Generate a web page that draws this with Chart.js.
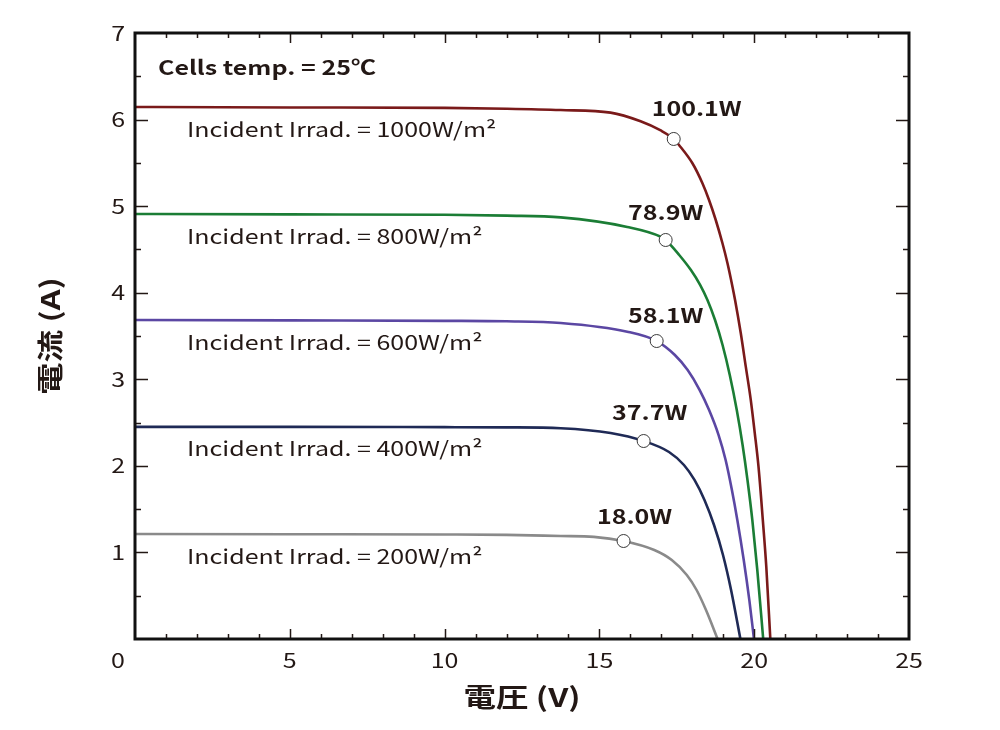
<!DOCTYPE html>
<html>
<head>
<meta charset="utf-8">
<script src="https://cdn.jsdelivr.net/npm/chart.js@4/dist/chart.umd.min.js"></script>
<style>
  html, body { margin: 0; padding: 0; background: #fff; }
  #wrap { width: 1000px; height: 730px; }
</style>
</head>
<body>
<div id="wrap"><canvas id="myChart" width="1000" height="730"></canvas></div>
<script>
// I-V curves, voltage (V) / current (A)
const v1000 = [0, 5, 10, 12, 13.75, 15.36, 16.33, 16.98, 17.4, 17.571, 18.005, 18.328, 18.541, 18.758, 18.975, 19.137, 19.298, 19.382, 19.567, 19.728, 19.89, 20.019, 20.139, 20.278, 20.391, 20.521];
const i1000 = [6.145, 6.14, 6.135, 6.125, 6.11, 6.08, 5.98, 5.874, 5.776, 5.706, 5.495, 5.264, 5.071, 4.84, 4.571, 4.34, 4.07, 3.916, 3.531, 3.146, 2.76, 2.376, 1.99, 1.375, 0.832, 0];

const v800 = [0, 5, 10, 12, 13.75, 15.9, 16.98, 17.14, 17.578, 17.956, 18.257, 18.49, 18.735, 18.978, 19.211, 19.437, 19.625, 19.783, 19.939, 20.1, 20.291];
const i800 = [4.91, 4.905, 4.9, 4.89, 4.87, 4.76, 4.647, 4.609, 4.436, 4.262, 4.089, 3.916, 3.685, 3.396, 3.05, 2.645, 2.241, 1.837, 1.375, 0.797, 0];

const v600 = [0, 5, 10, 12, 13.75, 15.9, 16.85, 17.438, 17.851, 18.239, 18.543, 18.85, 19.077, 19.28, 19.455, 19.662, 19.843, 19.993];
const i600 = [3.685, 3.68, 3.675, 3.67, 3.65, 3.55, 3.442, 3.281, 3.107, 2.876, 2.645, 2.356, 2.068, 1.721, 1.375, 0.913, 0.45, 0];

const v400 = [0, 5, 10, 12, 13.75, 15.36, 16.429, 17.248, 17.731, 18.071, 18.394, 18.702, 18.992, 19.253, 19.554];
const i400 = [2.45, 2.45, 2.447, 2.445, 2.435, 2.38, 2.287, 2.16, 2.01, 1.837, 1.606, 1.317, 0.97, 0.566, 0];

const v200 = [0, 5, 10, 12, 13.75, 14.82, 15.78, 16.772, 17.338, 17.823, 18.139, 18.443, 18.818];
const i200 = [1.213, 1.21, 1.207, 1.203, 1.19, 1.18, 1.132, 1.028, 0.912, 0.739, 0.566, 0.335, 0];

// maximum power points
const mppV = [17.4, 17.14, 16.85, 16.429, 15.78];
const mppI = [5.776, 4.609, 3.442, 2.287, 1.132];
const mppLabels = ["100.1W", "78.9W", "58.1W", "37.7W", "18.0W"];

const irradLabels = ["1000", "800", "600", "400", "200"];
const iscValues = [6.145, 4.91, 3.685, 2.45, 1.213];

const curveColors = ["#7a1a1a", "#1b7d35", "#5b47a3", "#1f2a56", "#8a8a8a"];

const FONT = "'Noto Sans CJK JP', 'Noto Sans', sans-serif";
const TXT = "#231815";
const SX = 1.25; // the original lettering is set wide

function pts(xs, ys) {
  return xs.map(function (x, k) { return { x: x, y: ys[k] }; });
}

function wideText(ctx, text, x, y, align, rot) {
  ctx.save();
  ctx.translate(x, y);
  if (rot) ctx.rotate(rot);
  ctx.scale(SX, 1);
  ctx.textAlign = align;
  ctx.fillText(text, 0, 0);
  ctx.restore();
}

const curves = [[v1000, i1000], [v800, i800], [v600, i600], [v400, i400], [v200, i200]];

const datasets = [
  {
    label: "mpp",
    data: pts(mppV, mppI),
    showLine: false,
    pointRadius: 6.5,
    pointBackgroundColor: "#fff",
    pointBorderColor: "#3a3a3a",
    pointBorderWidth: 1,
    order: 0,
  },
];
curves.forEach(function (c, k) {
  datasets.push({
    label: irradLabels[k],
    data: pts(c[0], c[1]),
    borderColor: curveColors[k],
    borderWidth: 2.6,
    pointRadius: 0,
    cubicInterpolationMode: "monotone",
    fill: false,
    order: 1,
  });
});

// frame, inward ticks, tick labels, titles and annotation texts
const decor = {
  id: "decor",
  afterDatasetsDraw(chart) {
    const ctx = chart.ctx;
    const xs = chart.scales.x;
    const ys = chart.scales.y;
    const a = chart.chartArea;
    ctx.save();
    ctx.strokeStyle = "#231815";
    ctx.lineWidth = 1.5;
    ctx.beginPath();
    for (let v = 1; v < 25; v++) {
      const len = v % 5 === 0 ? 10 : 5;
      const px = Math.round(xs.getPixelForValue(v)) + 0.5;
      ctx.moveTo(px, a.bottom); ctx.lineTo(px, a.bottom - len);
      ctx.moveTo(px, a.top); ctx.lineTo(px, a.top + len);
    }
    for (let k = 1; k < 14; k++) {
      const val = k * 0.5;
      const len = k % 2 === 0 ? 13 : 6;
      const py = Math.round(ys.getPixelForValue(val)) + 0.5;
      ctx.moveTo(a.left, py); ctx.lineTo(a.left + len, py);
      ctx.moveTo(a.right, py); ctx.lineTo(a.right - len, py);
    }
    ctx.stroke();
    ctx.lineWidth = 3;
    ctx.strokeStyle = "#111";
    ctx.strokeRect(a.left, a.top, a.right - a.left, a.bottom - a.top);

    ctx.fillStyle = TXT;
    ctx.textBaseline = "middle";

    // tick labels
    ctx.font = "20px " + FONT;
    xs.ticks.forEach(function (t) {
      const px = xs.getPixelForValue(t.value) + (t.value === 0 ? -17 : 0);
      wideText(ctx, String(t.value), px, a.bottom + 21, "center");
    });
    ys.ticks.forEach(function (t) {
      if (t.value === 0) return;
      wideText(ctx, String(t.value), a.left - 10, ys.getPixelForValue(t.value), "right");
    });

    // axis titles
    ctx.font = "bold 26px " + FONT;
    wideText(ctx, "電圧 (V)", (a.left + a.right) / 2, 697, "center");
    wideText(ctx, "電流 (A)", 50, (a.top + a.bottom) / 2, "center", -Math.PI / 2);

    ctx.font = "bold 20px " + FONT;
    wideText(ctx, "Cells temp. = 25℃", a.left + 23, a.top + 34, "left");

    const offs = [[23, -31], [0, -28], [9, -26], [6, -29], [11, -25]];
    mppLabels.forEach(function (t, k) {
      const px = xs.getPixelForValue(mppV[k]) + offs[k][0];
      const py = ys.getPixelForValue(mppI[k]) + offs[k][1];
      wideText(ctx, t, px, py, "center");
    });

    ctx.font = "20px " + FONT;
    irradLabels.forEach(function (t, k) {
      const px = xs.getPixelForValue(1.68);
      const py = ys.getPixelForValue(iscValues[k]) + 22;
      wideText(ctx, "Incident Irrad. = " + t + "W/m²", px, py, "left");
    });
    ctx.restore();
  },
};

const config = {
  type: "line",
  data: { datasets: datasets },
  options: {
    responsive: false,
    animation: false,
    layout: { padding: { top: 33, right: 91, bottom: 0, left: 0 } },
    plugins: { legend: { display: false }, tooltip: { enabled: false } },
    scales: {
      x: {
        type: "linear",
        min: 0,
        max: 25,
        afterFit(scale) { scale.height = 91; },
        grid: { display: false, drawTicks: false },
        border: { display: false },
        ticks: { stepSize: 5, display: false },
      },
      y: {
        min: 0,
        max: 7,
        afterFit(scale) { scale.width = 135; },
        grid: { display: false, drawTicks: false },
        border: { display: false },
        ticks: { stepSize: 1, display: false },
      },
    },
  },
  plugins: [decor],
};

const myChart = new Chart(document.getElementById("myChart"), config);
</script>
</body>
</html>
